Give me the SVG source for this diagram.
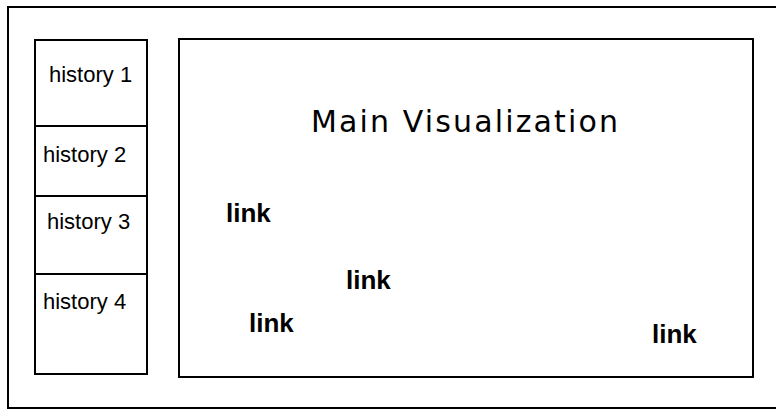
<svg xmlns="http://www.w3.org/2000/svg" width="776" height="410" viewBox="0 0 776 410">
  <style>
    .box { fill: #ffffff; stroke: #000000; stroke-width: 2; }
    .hist { font-family: "Liberation Sans", Arial, sans-serif; font-size: 22px; fill: #000; }
    .link { font-family: "Liberation Sans", Arial, sans-serif; font-size: 26px; font-weight: bold; fill: #000; }
    .title { font-family: "DejaVu Sans", Verdana, sans-serif; font-size: 30px; fill: #000; }
  </style>
  <rect x="0" y="0" width="776" height="410" fill="#ffffff"/>
  <g id="frame">
    <rect class="box" x="8" y="7" width="780" height="401"/>
  </g>
  <g id="history-1">
    <rect class="box" x="35" y="40" width="112" height="86"/>
    <text class="hist" x="49" y="82">history 1</text>
  </g>
  <g id="history-2">
    <rect class="box" x="35" y="126" width="112" height="70"/>
    <text class="hist" x="43" y="162">history 2</text>
  </g>
  <g id="history-3">
    <rect class="box" x="35" y="196" width="112" height="78"/>
    <text class="hist" x="47" y="229">history 3</text>
  </g>
  <g id="history-4">
    <rect class="box" x="35" y="274" width="112" height="100"/>
    <text class="hist" x="43" y="309">history 4</text>
  </g>
  <g id="main-visualization">
    <rect class="box" x="179" y="39" width="574" height="338"/>
    <text class="title" x="311" y="132" textLength="307" lengthAdjust="spacing">Main Visualization</text>
  </g>
  <g id="link-1"><text class="link" x="226" y="222">link</text></g>
  <g id="link-2"><text class="link" x="346" y="289">link</text></g>
  <g id="link-3"><text class="link" x="249" y="332">link</text></g>
  <g id="link-4"><text class="link" x="652" y="343">link</text></g>
  <g id="connectors"></g>
</svg>
